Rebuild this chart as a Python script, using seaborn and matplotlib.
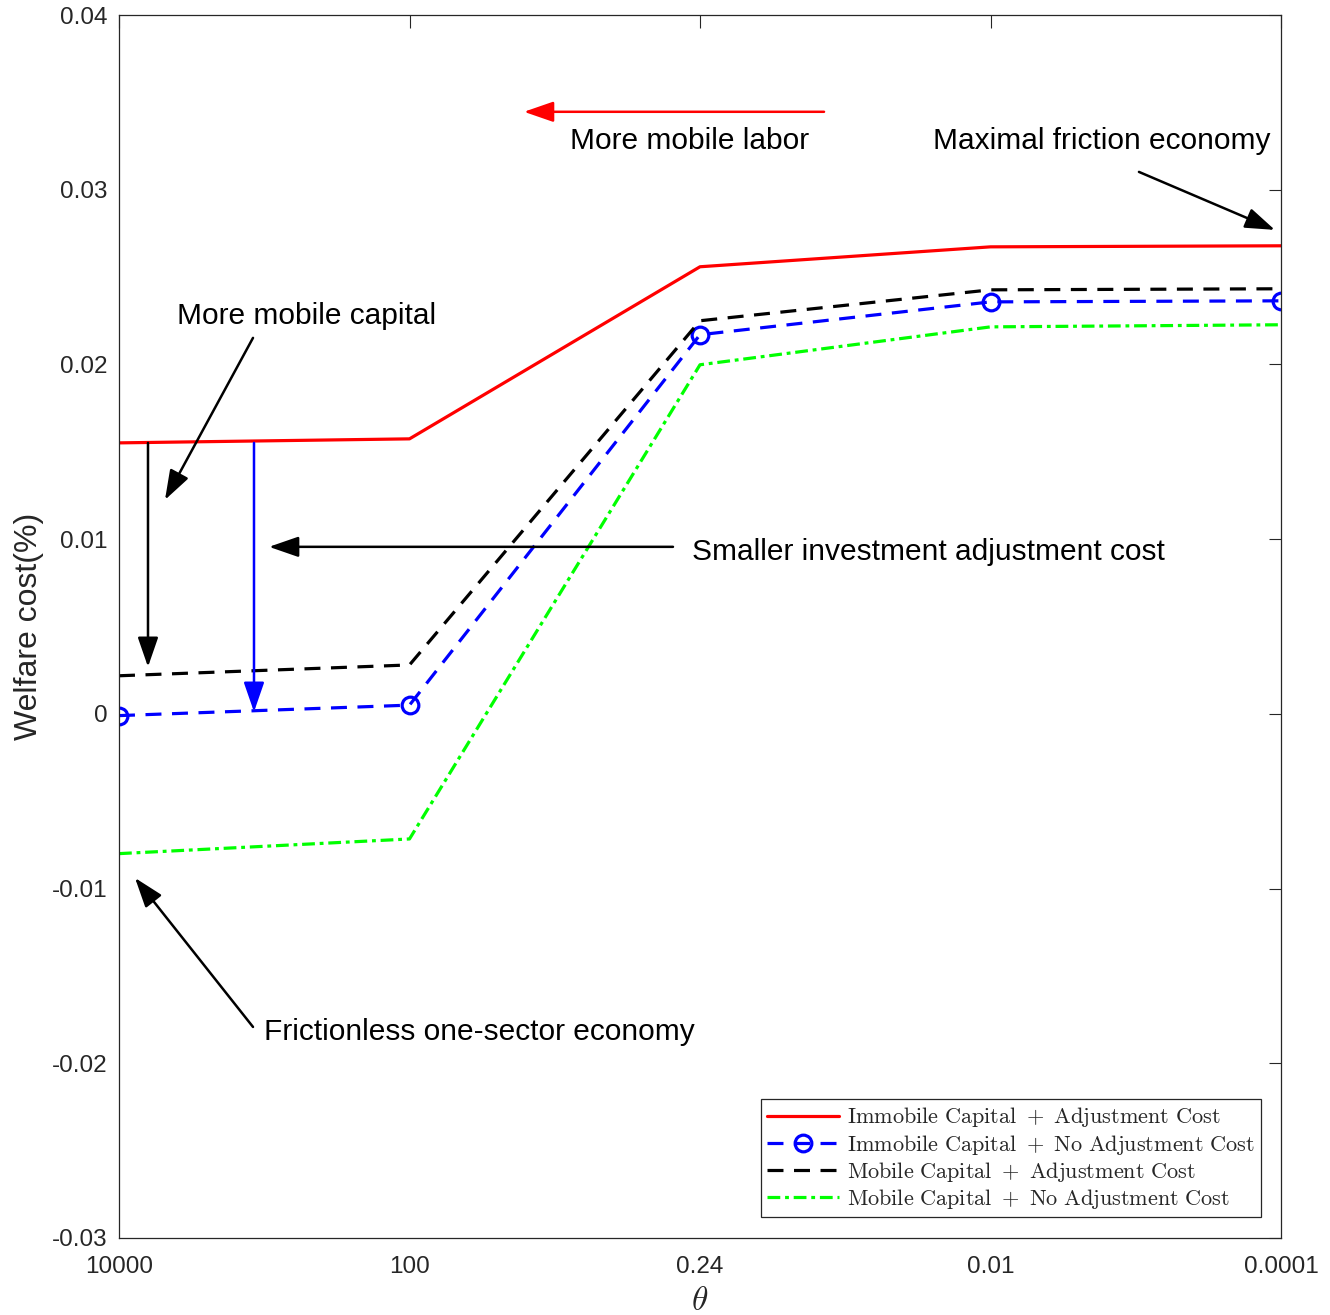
import matplotlib
matplotlib.use("Agg")
import matplotlib.pyplot as plt
import seaborn as sns
import numpy as np

sns.set_style("white")
plt.rcParams['font.family'] = ['Liberation Sans', 'DejaVu Sans']
plt.rcParams['mathtext.fontset'] = 'cm'

# ---- data ----
theta_labels = ["10000", "100", "0.24", "0.01", "0.0001"]
x_pos = [0, 1, 2, 3, 4]
immobile_adj = [0.01551, 0.01574, 0.02559, 0.02673, 0.02679]
immobile_noadj = [-0.0001, 0.0005, 0.0217, 0.02358, 0.02364]
mobile_adj = [0.00218, 0.0028, 0.0225, 0.02427, 0.02433]
mobile_noadj = [-0.0080, -0.00716, 0.01998, 0.02215, 0.02227]
y_ticks = [-0.03, -0.02, -0.01, 0.0, 0.01, 0.02, 0.03, 0.04]
y_tick_labels = ["-0.03", "-0.02", "-0.01", "0", "0.01", "0.02", "0.03", "0.04"]
legend_labels = [r"$\mathrm{Immobile\ Capital\ +\ Adjustment\ Cost}$",
                 r"$\mathrm{Immobile\ Capital\ +\ No\ Adjustment\ Cost}$",
                 r"$\mathrm{Mobile\ Capital\ +\ Adjustment\ Cost}$",
                 r"$\mathrm{Mobile\ Capital\ +\ No\ Adjustment\ Cost}$"]

fig = plt.figure(figsize=(13.3, 13.15), dpi=100)
ax = fig.add_axes([119/1330, 1 - 1238/1315, (1281-119)/1330, (1238-15)/1315])

lw = 2.3
sns.lineplot(x=x_pos, y=immobile_adj, ax=ax, color='#ff0000', linewidth=lw,
             label=legend_labels[0])
sns.lineplot(x=x_pos, y=immobile_noadj, ax=ax, color='#0000ff', linewidth=lw,
             marker='o', markersize=12, markerfacecolor='none',
             markeredgecolor='#0000ff', markeredgewidth=2.3, label=legend_labels[1])
ax.lines[-1].set_dashes((5, 3.3))
sns.lineplot(x=x_pos, y=mobile_adj, ax=ax, color='black', linewidth=lw,
             label=legend_labels[2])
ax.lines[-1].set_dashes((5, 3.3))
sns.lineplot(x=x_pos, y=mobile_noadj, ax=ax, color='#00ff00', linewidth=lw,
             label=legend_labels[3])
ax.lines[-1].set_dashes((4, 1.5, 1.2, 1.5))

ax.set_xlim(0, 4)
ax.set_ylim(-0.03, 0.04)
ax.set_xticks(x_pos)
ax.set_xticklabels(theta_labels)
ax.set_yticks(y_ticks)
ax.set_yticklabels(y_tick_labels)
ax.tick_params(direction='in', length=9, width=0.8, top=True, right=True,
               labelsize=17.5, colors='#262626')
ax.tick_params(axis='x', pad=13)
ax.tick_params(axis='y', pad=8)
for s in ax.spines.values():
    s.set_visible(True)
    s.set_color('#262626')
    s.set_linewidth(0.9)

ax.set_xlabel(r"$\theta$", fontsize=24, color='#262626', labelpad=6)
ax.set_ylabel("Welfare cost(%)", fontsize=23, color='#262626', labelpad=6)

# ---- annotations ----
fs = 21.5
def arrow(x0, y0, x1, y1, color='black'):
    ax.annotate('', xy=(x1, y1), xytext=(x0, y0),
                arrowprops=dict(arrowstyle='-|>,head_length=1.3,head_width=0.45',
                                color=color, lw=1.8, shrinkA=0, shrinkB=0,
                                mutation_scale=14))

arrow(2.427, 0.03446, 1.394, 0.03446, color='#ff0000')
ax.text(1.5525, 0.03280, "More mobile labor", fontsize=fs, va='center', ha='left', color='black')
ax.text(2.802, 0.03280, "Maximal friction economy", fontsize=fs, va='center', ha='left', color='black')
arrow(3.511, 0.03102, 3.979, 0.02770)
ax.text(0.1997, 0.02280, "More mobile capital", fontsize=fs, va='center', ha='left', color='black')
arrow(0.4613, 0.02152, 0.1583, 0.01225)
arrow(0.0998, 0.01551, 0.0998, 0.00269)
arrow(0.4647, 0.01551, 0.4647, 0.000114, color='#0000ff')
ax.text(1.9725, 0.00929, "Smaller investment adjustment cost", fontsize=fs, va='center', ha='left', color='black')
arrow(1.907, 0.00956, 0.5164, 0.00956)
ax.text(0.499, -0.01819, "Frictionless one-sector economy", fontsize=fs, va='center', ha='left', color='black')
arrow(0.4613, -0.01792, 0.0551, -0.00939)

leg = ax.legend(loc='lower right', bbox_to_anchor=(0.9828, 0.01717), fontsize=16,
                frameon=True, fancybox=False, edgecolor='#262626', framealpha=1,
                handlelength=3.25, handletextpad=0.35, borderpad=0.28, labelspacing=0.14,
                borderaxespad=0)
leg.get_frame().set_linewidth(0.9)
for t in leg.get_texts():
    t.set_color('#262626')

fig.savefig("out.png", dpi=100)
